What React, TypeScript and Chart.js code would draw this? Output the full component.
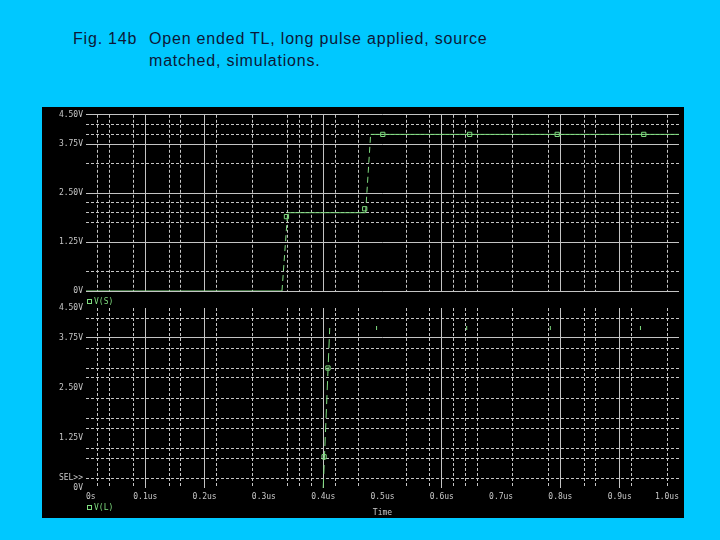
import React, { useEffect, useRef } from 'react';
import { Chart, registerables } from 'chart.js';

Chart.register(...registerables);

// ---- data (time in microseconds, voltage in volts) ----
const timeVS = [0, 0.3305, 0.34, 0.4715, 0.48, 1.0];
const voltVS = [0, 0, 2.0, 2.0, 4.0, 4.0];
const markTimeVS = [0.338, 0.47, 0.5005, 0.647, 0.7946, 0.9406];
const markVoltVS = [1.9, 2.1, 4.0, 4.0, 4.0, 4.0];

const timeVL = [0, 0.4, 0.411, 1.0];
const voltVL = [0, 0, 4.0, 4.0];
const markTimeVL = [0.4015, 0.408];
const markVoltVL = [0.78, 3.0];
const tickTimeVL = [0.49, 0.642, 0.783, 0.935];
const tickVoltVL = [4.0, 4.0, 4.0, 4.0];

// ---- axes ----
const xLabelValues = [0, 0.1, 0.2, 0.3, 0.4, 0.5, 0.6, 0.7, 0.8, 0.9, 1.0];
const xLabelTexts = ['0s', '0.1us', '0.2us', '0.3us', '0.4us', '0.5us', '0.6us', '0.7us', '0.8us', '0.9us', '1.0us'];
const xGridSolid = [0.1, 0.2, 0.4, 0.6, 0.8, 0.9];
const xGridDotted = [0.02, 0.04, 0.08, 0.14, 0.16, 0.22, 0.28, 0.34, 0.36, 0.38, 0.42, 0.46, 0.54, 0.58, 0.62, 0.64, 0.66, 0.72, 0.78, 0.84, 0.86, 0.92, 0.98];

const topYLabelValues = [0, 1.25, 2.5, 3.75, 4.5];
const topYLabelTexts = ['0V', '1.25V', '2.50V', '3.75V', '4.50V'];
const topYSolid = [0, 1.25, 2.5, 3.75, 4.5];
const topYDotted = [0.5, 1.75, 2.0, 2.25, 3.25, 4.0, 4.25];

const botYLabelValues = [0, 0.25, 1.25, 2.5, 3.75, 4.5];
const botYLabelTexts = ['0V', 'SEL>>', '1.25V', '2.50V', '3.75V', '4.50V'];
const botYSolid = [3.75];
const botYDotted = [0.25, 0.75, 1.0, 1.5, 1.75, 2.25, 2.75, 3.0, 3.5, 4.25];

// ---- styles ----
const GREEN = '#7fdc7f';
const GRID = '#c4c4c4';
const TICK = '#c8c8c8';
const MONO = { family: '"DejaVu Sans Mono", monospace', size: 8 };
const NONE = 'rgba(0,0,0,0)';

function gridAxis(labelVals: number[], labelTexts: string[], solid: number[], dotted: number[]) {
  const all = Array.from(new Set([...labelVals, ...solid, ...dotted])).sort((a, b) => a - b);
  return {
    type: 'linear',
    afterBuildTicks: (s: any) => {
      s.ticks = all.map((v) => ({ value: v }));
    },
    ticks: {
      autoSkip: false,
      maxRotation: 0,
      color: TICK,
      font: MONO,
      padding: 3,
      callback: (v: number) => {
        const i = labelVals.indexOf(v);
        return i >= 0 ? labelTexts[i] : '';
      },
    },
    grid: {
      drawTicks: false,
      lineWidth: 1,
      color: (c: any) => {
        if (!c.tick) return NONE;
        const v = c.tick.value;
        return solid.includes(v) || dotted.includes(v) ? GRID : NONE;
      },
    },
    border: {
      display: false,
      dash: (c: any) => (c.tick && !solid.includes(c.tick.value) ? [3, 2] : []),
    },
  };
}

const pts = (xs: number[], ys: number[]) => xs.map((x, i) => ({ x, y: ys[i] }));

const traceLegendPlugin = {
  id: 'traceLegend',
  afterDraw(chart: any, _args: any, opts: any) {
    if (!opts || !opts.text) return;
    const { ctx, chartArea } = chart;
    const y = Math.round(chartArea.bottom + opts.offsetY);
    const x = Math.round(chartArea.left);
    ctx.save();
    ctx.strokeStyle = GREEN;
    ctx.lineWidth = 1;
    ctx.strokeRect(x + 1.5, y - 1.5, 4, 4);
    ctx.fillStyle = GREEN;
    ctx.font = '8px "DejaVu Sans Mono", monospace';
    ctx.textBaseline = 'middle';
    ctx.textAlign = 'left';
    ctx.fillText(opts.text, x + 8, y + 0.5);
    ctx.restore();
  },
};

function topConfig(): any {
  const x: any = gridAxis(xLabelValues, xLabelTexts, xGridSolid, xGridDotted);
  x.min = 0;
  x.max = 1.0;
  x.ticks = { ...x.ticks, display: false };
  const y: any = gridAxis(topYLabelValues, topYLabelTexts, topYSolid, topYDotted);
  y.min = 0;
  y.max = 4.5;
  y.afterFit = (s: any) => {
    s.width = 44;
  };
  return {
    type: 'line',
    data: {
      datasets: [
        {
          label: 'V(S)',
          data: pts(timeVS, voltVS),
          borderColor: GREEN,
          borderWidth: 1,
          pointRadius: 0,
          tension: 0,
          segment: {
            borderDash: (c: any) => (c.p0.parsed.y !== c.p1.parsed.y ? [6, 4] : undefined),
          },
        },
        {
          label: 'V(S) markers',
          data: pts(markTimeVS, markVoltVS),
          showLine: false,
          pointStyle: 'rect',
          pointRadius: 3,
          pointBorderWidth: 1,
          pointBorderColor: GREEN,
          pointBackgroundColor: NONE,
        },
      ],
    },
    options: {
      responsive: false,
      animation: false,
      devicePixelRatio: 1,
      layout: { padding: { left: 0, top: 6, right: 2, bottom: 19 } },
      scales: { x, y },
      plugins: {
        legend: { display: false },
        tooltip: { enabled: false },
        traceLegend: { text: 'V(S)', offsetY: 10 },
      },
    },
    plugins: [traceLegendPlugin],
  };
}

function bottomConfig(): any {
  const x: any = gridAxis(xLabelValues, xLabelTexts, xGridSolid, xGridDotted);
  x.min = 0;
  x.max = 1.0;
  x.ticks = { ...x.ticks, padding: 4, align: 'inner' };
  x.title = { display: true, text: 'Time', color: TICK, font: MONO, padding: { top: 0, bottom: 0 } };
  x.afterFit = (s: any) => {
    s.height = 30;
    s.paddingLeft = 0;
    s.paddingRight = 0;
  };
  const y: any = gridAxis(botYLabelValues, botYLabelTexts, botYSolid, botYDotted);
  y.min = 0;
  y.max = 4.5;
  y.afterFit = (s: any) => {
    s.width = 44;
  };
  return {
    type: 'line',
    data: {
      datasets: [
        {
          label: 'V(L)',
          data: pts(timeVL, voltVL),
          borderWidth: 1,
          pointRadius: 0,
          tension: 0,
          borderColor: GREEN,
          segment: {
            borderColor: (c: any) => (c.p0.parsed.y === c.p1.parsed.y ? NONE : GREEN),
            borderDash: (c: any) => (c.p0.parsed.y !== c.p1.parsed.y ? [9, 5] : undefined),
          },
        },
        {
          label: 'V(L) markers',
          data: pts(markTimeVL, markVoltVL),
          showLine: false,
          pointStyle: 'rect',
          pointRadius: 3,
          pointBorderWidth: 1,
          pointBorderColor: GREEN,
          pointBackgroundColor: NONE,
        },
        {
          label: 'V(L) marker ticks',
          data: pts(tickTimeVL, tickVoltVL),
          showLine: false,
          pointStyle: 'line',
          pointRotation: 90,
          pointRadius: 2,
          pointBorderWidth: 1,
          pointBorderColor: GREEN,
        },
      ],
    },
    options: {
      responsive: false,
      animation: false,
      devicePixelRatio: 1,
      layout: { padding: { left: 0, top: 12, right: 2, bottom: 0 } },
      scales: { x, y },
      plugins: {
        legend: { display: false },
        tooltip: { enabled: false },
        traceLegend: { text: 'V(L)', offsetY: 19 },
      },
    },
    plugins: [traceLegendPlugin],
  };
}

function PlotCanvas({ make, top, height }: { make: () => any; top: number; height: number }) {
  const ref = useRef<HTMLCanvasElement | null>(null);
  useEffect(() => {
    const chart = new Chart(ref.current as HTMLCanvasElement, make());
    return () => chart.destroy();
  }, [make]);
  return (
    <canvas
      ref={ref}
      width={642}
      height={height}
      style={{ position: 'absolute', left: 0, top, width: 642, height, display: 'block' }}
    />
  );
}

const titleStyle: React.CSSProperties = {
  position: 'absolute',
  fontFamily: '"Liberation Sans", Arial, sans-serif',
  fontSize: 16,
  lineHeight: '16px',
  letterSpacing: '0.8px',
  color: '#0c1838',
  whiteSpace: 'nowrap',
};

export default function App() {
  return (
    <div
      style={{
        position: 'absolute',
        left: 0,
        top: 0,
        width: 720,
        height: 540,
        background: '#00c8ff',
        overflow: 'hidden',
      }}
    >
      <div style={{ ...titleStyle, left: 73, top: 31 }}>Fig. 14b</div>
      <div style={{ ...titleStyle, left: 149, top: 31 }}>Open ended TL, long pulse applied, source</div>
      <div style={{ ...titleStyle, left: 149, top: 53 }}>matched, simulations.</div>
      <div
        style={{
          position: 'absolute',
          left: 42,
          top: 107,
          width: 642,
          height: 411,
          background: '#000000',
          overflow: 'hidden',
        }}
      >
        <PlotCanvas make={topConfig} top={0} height={203} />
        <PlotCanvas make={bottomConfig} top={189} height={222} />
      </div>
    </div>
  );
}
